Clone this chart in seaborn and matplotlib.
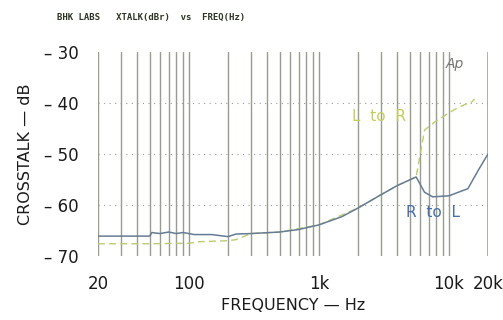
import matplotlib
matplotlib.use("Agg")
import matplotlib.pyplot as plt
import seaborn as sns
import pandas as pd
import numpy as np

# ---- data ----
r_to_l_freq = [20, 30, 40, 50, 52, 60, 70, 80, 90, 100, 110, 150, 200, 230, 300,
               500, 700, 1000, 1500, 2000, 3000, 4000, 5600, 6500, 7500, 10000,
               14000, 17000, 20000]
r_to_l_db = [-66.1, -66.1, -66.1, -66.1, -65.4, -65.6, -65.3, -65.6, -65.4, -65.6,
             -65.8, -65.8, -66.2, -65.7, -65.6, -65.3, -64.8, -63.9, -62.3, -60.6,
             -58.0, -56.2, -54.5, -57.5, -58.4, -58.2, -56.8, -53.0, -50.0]

l_to_r_freq = [20, 50, 100, 120, 200, 230, 300, 500, 1000, 2000, 3000, 4000, 5600,
               6500, 8000, 9000, 11000, 13000, 15000, 15800]
l_to_r_db = [-67.6, -67.6, -67.5, -67.2, -67.0, -66.8, -65.6, -65.3, -63.9, -60.6,
             -58.0, -56.2, -54.5, -45.3, -43.5, -42.7, -41.3, -40.4, -39.8, -39.2]

y_ticks = [-30, -40, -50, -60, -70]
y_labels = ["\u2013 30", "\u2013 40", "\u2013 50", "\u2013 60", "\u2013 70"]
x_ticks = [20, 100, 1000, 10000, 20000]
x_labels = ["20", "100", "1k", "10k", "20k"]

sns.set_theme(style="white")
plt.rcParams['font.family'] = ['DejaVu Sans']

fig = plt.figure(figsize=(5.03, 3.20), dpi=100)
ax = fig.add_axes([98/503, 1 - 256/320, 390/503, (256 - 52)/320])

df_lr = pd.DataFrame({"freq": l_to_r_freq, "db": l_to_r_db})
df_rl = pd.DataFrame({"freq": r_to_l_freq, "db": r_to_l_db})

sns.lineplot(data=df_lr, x="freq", y="db", ax=ax, color="#bccb6e", lw=1.0,
             linestyle=(0, (5, 3)), zorder=3)
sns.lineplot(data=df_rl, x="freq", y="db", ax=ax, color="#667c94", lw=1.1, zorder=4)

ax.set_xscale("log")
ax.set_xlim(20, 20000)
ax.set_ylim(-70, -30)

minor = [m * d for d in [10, 100, 1000, 10000] for m in range(2, 10)]
minor = [v for v in minor if 20 < v < 20000 and v not in x_ticks]
ax.set_xticks(x_ticks)
ax.set_xticklabels(x_labels)
ax.set_xticks(minor, minor=True)
ax.set_yticks(y_ticks)
ax.set_yticklabels(y_labels)
ax.tick_params(axis="both", which="both", length=0, labelsize=12, colors="#1a1a1a")
ax.tick_params(axis="x", pad=14)
ax.tick_params(axis="y", pad=14)

ax.grid(False)
for v in x_ticks + minor:
    lw = 2.0 if v == 20000 else 1.0
    col = "#a6aa9c" if v == 20000 else "#989e8e"
    ax.axvline(v, color=col, lw=lw, zorder=1)
for v in [-40, -50, -60]:
    ax.axhline(v, color="#9a9a9a", lw=0.8, linestyle=(0, (1, 4)), zorder=1)

for s in ax.spines.values():
    s.set_visible(False)

ax.set_xlabel("FREQUENCY \u2014 Hz", fontsize=11.5, color="#1a1a1a", labelpad=3)
ax.set_ylabel("CROSSTALK \u2014 dB", fontsize=11.5, color="#1a1a1a", labelpad=8)

ax.text(0.72, 0.685, "L  to  R", transform=ax.transAxes, fontsize=11,
        color="#c4cf5a", ha="center", va="center")
ax.text(0.86, 0.215, "R  to  L", transform=ax.transAxes, fontsize=11,
        color="#4a6fa5", ha="center", va="center")
fig.text(455/503, 1 - 64/320, "Ap", fontsize=10, style="italic", color="#777777",
         ha="center", va="center")

fig.text(57/503, 1 - 17/320, "BHK LABS   XTALK(dBr)  vs  FREQ(Hz)",
         fontsize=6.5, fontweight="bold", family="DejaVu Sans Mono",
         color="#2e3526", ha="left", va="center")

fig.savefig("out.png", dpi=100)
